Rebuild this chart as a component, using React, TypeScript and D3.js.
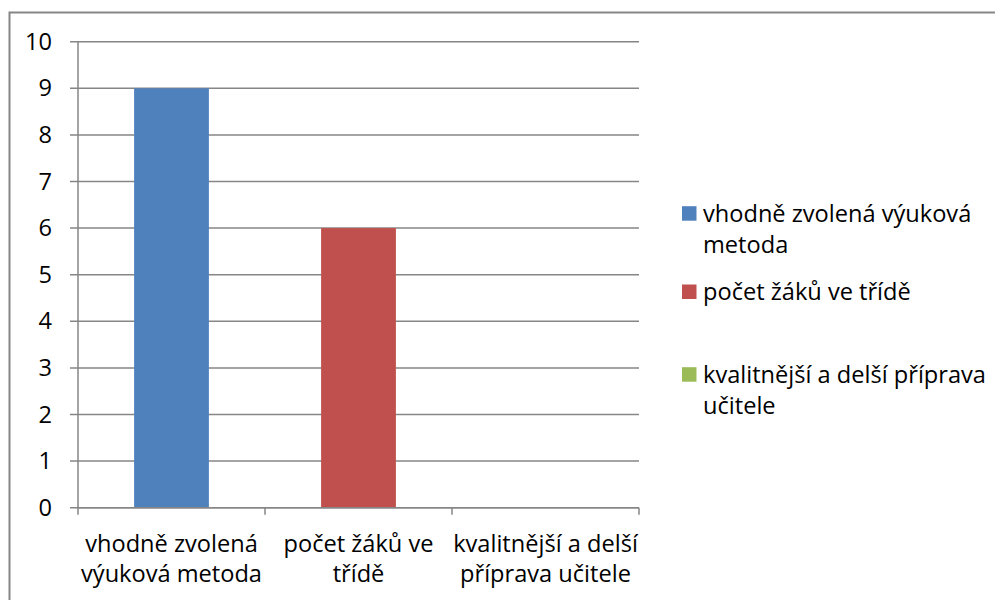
import React from "react";
import * as d3 from "d3";

const categories = [
  "vhodně zvolená výuková metoda",
  "počet žáků ve třídě",
  "kvalitnější a delší příprava učitele",
];
const categoryLabelLines = [
  ["vhodně zvolená", "výuková metoda"],
  ["počet žáků ve", "třídě"],
  ["kvalitnější a delší", "příprava učitele"],
];
const legendLabelLines = [
  ["vhodně zvolená výuková", "metoda"],
  ["počet žáků ve třídě"],
  ["kvalitnější a delší příprava", "učitele"],
];
const values = [9, 6, 0];
const seriesColors = ["#4F81BD", "#C0504D", "#9BBB59"];
const yTicks = [0, 1, 2, 3, 4, 5, 6, 7, 8, 9, 10];

const FONT = "'Open Sans', Lato, sans-serif";
const FS = 23.6;

export default function App() {
  const left = 78;
  const right = 639;
  const top = 41.7;
  const bottom = 507.7;
  const x = d3
    .scaleBand<string>()
    .domain(categories)
    .range([left, right])
    .paddingInner(0.6)
    .paddingOuter(0.3);
  const step = (right - left) / categories.length;
  const y = d3.scaleLinear().domain([0, 10]).range([bottom, top]);
  const grid = "#868686";

  const legendBaselines = [221.7, 300, 382.7];

  return (
    <svg
      width={995}
      height={600}
      style={{ position: "absolute", left: 0, top: 0, display: "block" }}
      fontFamily={FONT}
    >
      <rect x={0} y={0} width={995} height={600} fill="#fff" />
      <rect x={9.5} y={12.5} width={1100} height={700} fill="none" stroke={grid} strokeWidth={2} />
      {yTicks.map((t) => (
        <g key={t}>
          <line x1={left - 8} x2={right} y1={y(t)} y2={y(t)} stroke={grid} strokeWidth={1.5} />
          <text x={52} y={y(t) + 8} textAnchor="end" fontSize={FS} fill="#000">
            {t}
          </text>
        </g>
      ))}
      {categories.map((c, i) => (
        <rect
          key={c}
          x={x(c)}
          y={y(values[i])}
          width={x.bandwidth()}
          height={bottom - y(values[i])}
          fill={seriesColors[i]}
        />
      ))}
      <line x1={left} x2={left} y1={top} y2={bottom} stroke={grid} strokeWidth={1.5} />
      <line x1={left} x2={right} y1={bottom} y2={bottom} stroke={grid} strokeWidth={1.5} />
      {d3.range(categories.length + 1).map((i) => (
        <line
          key={i}
          x1={left + i * step}
          x2={left + i * step}
          y1={bottom}
          y2={bottom + 7}
          stroke={grid}
          strokeWidth={1.5}
        />
      ))}
      {categories.map((c, i) => (
        <text key={c} textAnchor="middle" fontSize={FS} fill="#000">
          {categoryLabelLines[i].map((ln, j) => (
            <tspan key={j} x={(x(c) as number) + x.bandwidth() / 2} y={551.7 + j * 30}>
              {ln}
            </tspan>
          ))}
        </text>
      ))}
      {categories.map((c, i) => (
        <g key={c}>
          <rect x={682} y={legendBaselines[i] - 15.5} width={14.5} height={14.5} fill={seriesColors[i]} />
          <text fontSize={FS} fill="#000">
            {legendLabelLines[i].map((ln, j) => (
              <tspan key={j} x={703} y={legendBaselines[i] + j * 31.3}>
                {ln}
              </tspan>
            ))}
          </text>
        </g>
      ))}
    </svg>
  );
}
